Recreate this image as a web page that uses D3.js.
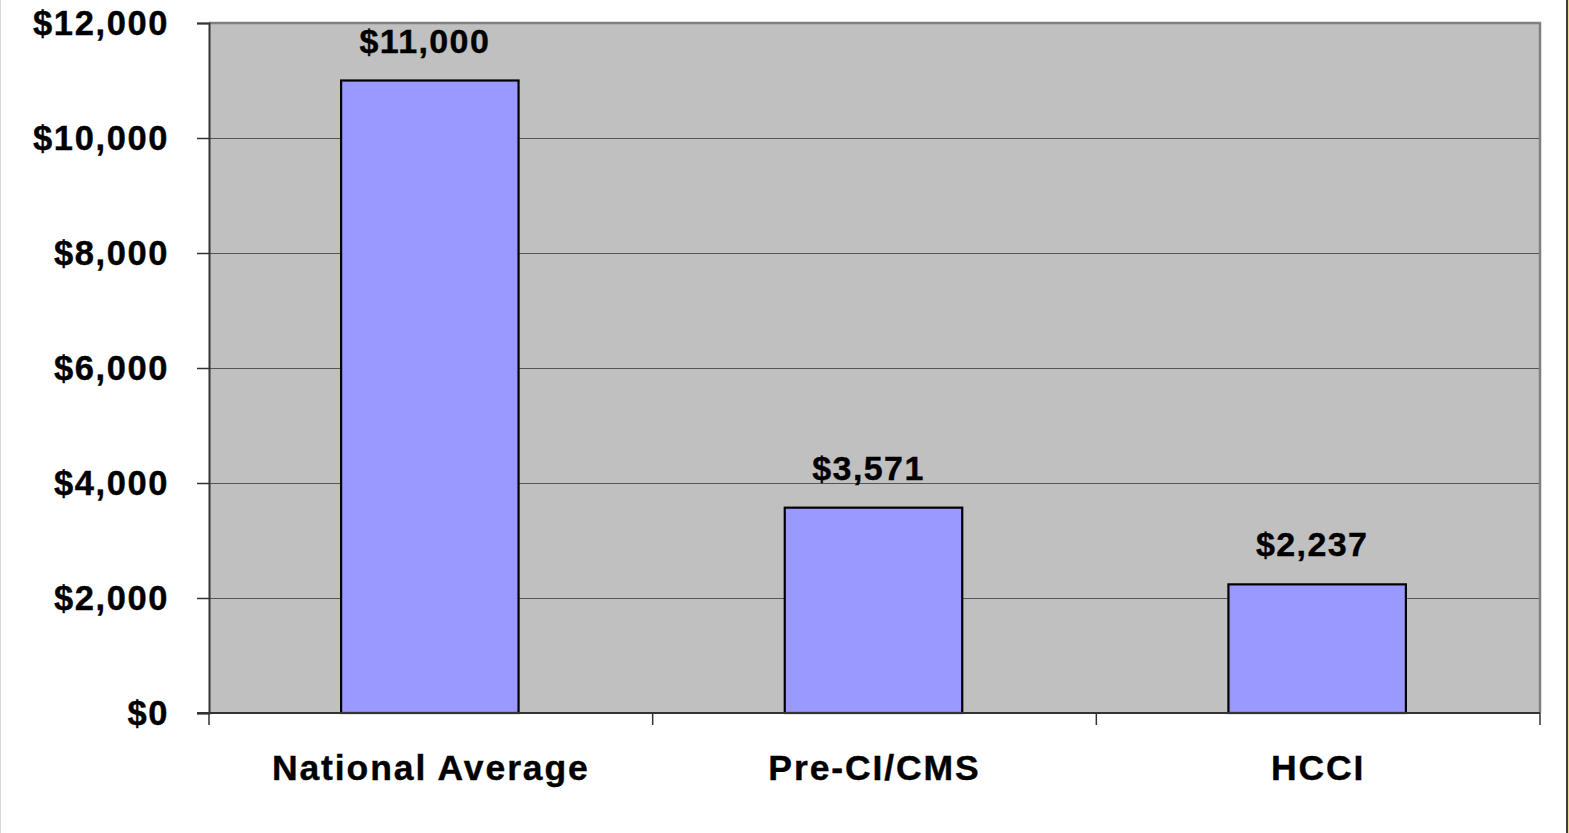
<!DOCTYPE html>
<html>
<head>
<meta charset="utf-8">
<script src="https://cdn.jsdelivr.net/npm/d3@7"></script>
<style>
  html, body { margin: 0; padding: 0; background: #ffffff; }
  svg { display: block; }
  text { font-family: "Liberation Sans", Arial, sans-serif; font-weight: bold; fill: #000; }
</style>
</head>
<body>
<script>
// Average cost per case, by program
const categories = ["National Average", "Pre-CI/CMS", "HCCI"];
const values = [11000, 3571, 2237];
const yTicks = [0, 2000, 4000, 6000, 8000, 10000, 12000];

const W = 1569, H = 833;
const plot = { left: 209, right: 1540, top: 23, bottom: 713 };

const svg = d3.select("body").append("svg")
  .attr("width", W).attr("height", H);

// outer frame edges
svg.append("rect").attr("x", 0).attr("y", 0).attr("width", 1).attr("height", H).attr("fill", "#d8d8d8");
svg.append("rect").attr("x", 1566).attr("y", 0).attr("width", 2).attr("height", H).attr("fill", "#3a3a3a");
svg.append("rect").attr("x", 1568).attr("y", 0).attr("width", 1).attr("height", H).attr("fill", "#e8d890");

const x = d3.scaleBand()
  .domain(categories)
  .range([plot.left, plot.right])
  .paddingInner(0.6)
  .paddingOuter(0.3);

const y = d3.scaleLinear()
  .domain([0, 12000])
  .range([plot.bottom, plot.top]);

const fmt = v => "$" + d3.format(",")(v);

// plot background
svg.append("rect")
  .attr("x", plot.left).attr("y", plot.top)
  .attr("width", plot.right - plot.left).attr("height", plot.bottom - plot.top)
  .attr("fill", "#c0c0c0");

// horizontal gridlines
svg.append("g").selectAll("line")
  .data(yTicks.filter(t => t > 0 && t < 12000))
  .join("line")
  .attr("x1", plot.left).attr("x2", plot.right)
  .attr("y1", d => Math.round(y(d)) + 0.5).attr("y2", d => Math.round(y(d)) + 0.5)
  .attr("stroke", "#555555").attr("stroke-width", 1);

// plot border (top and right)
svg.append("path")
  .attr("d", `M${plot.left},${plot.top} H${plot.right} V${plot.bottom}`)
  .attr("fill", "none").attr("stroke", "#808080").attr("stroke-width", 2.5);

// bars
svg.append("g").selectAll("rect")
  .data(values)
  .join("rect")
  .attr("x", (d, i) => x(categories[i]) - 1)
  .attr("y", d => y(d))
  .attr("width", x.bandwidth())
  .attr("height", d => y(0) - y(d))
  .attr("fill", "#9999ff")
  .attr("stroke", "#000").attr("stroke-width", 2.2);

// value labels
svg.append("g").selectAll("text")
  .data(values)
  .join("text")
  .attr("x", (d, i) => x(categories[i]) + x.bandwidth() / 2 - 6)
  .attr("y", d => y(d) - 28)
  .attr("text-anchor", "middle")
  .attr("font-size", 34)
  .attr("letter-spacing", 1.4)
  .attr("stroke", "#000").attr("stroke-width", 0.4)
  .text(d => fmt(d));

// y axis
const yAxis = d3.axisLeft(y).tickValues(yTicks).tickFormat(fmt).tickSize(12).tickPadding(28);
const gy = svg.append("g").attr("transform", `translate(${plot.left},0)`).call(yAxis);
gy.select(".domain").attr("stroke", "#333").attr("stroke-width", 2);
gy.selectAll(".tick line").attr("stroke", "#333").attr("stroke-width", 1.5);
gy.selectAll(".tick text")
  .attr("font-size", 34.5)
  .attr("letter-spacing", 1.6)
  .attr("font-family", "Liberation Sans, Arial, sans-serif")
  .attr("font-weight", "bold")
  .attr("fill", "#000")
  .attr("stroke", "#000").attr("stroke-width", 0.4);

// x axis: category dividers and labels
const step = (plot.right - plot.left) / categories.length;
const gx = svg.append("g");
gx.append("line")
  .attr("x1", plot.left - 12).attr("x2", plot.right)
  .attr("y1", plot.bottom).attr("y2", plot.bottom)
  .attr("stroke", "#333").attr("stroke-width", 2);
gx.selectAll("line.div")
  .data(d3.range(categories.length + 1))
  .join("line").attr("class", "div")
  .attr("x1", i => plot.left + i * step).attr("x2", i => plot.left + i * step)
  .attr("y1", plot.bottom).attr("y2", plot.bottom + 12)
  .attr("stroke", "#333").attr("stroke-width", 1.5);
gx.selectAll("text")
  .data(categories)
  .join("text")
  .attr("x", d => x(d) + x.bandwidth() / 2)
  .attr("y", 780)
  .attr("text-anchor", "middle")
  .attr("font-size", 35.5)
  .attr("letter-spacing", 1.9)
  .attr("stroke", "#000").attr("stroke-width", 0.4)
  .text(d => d);
</script>
</body>
</html>
